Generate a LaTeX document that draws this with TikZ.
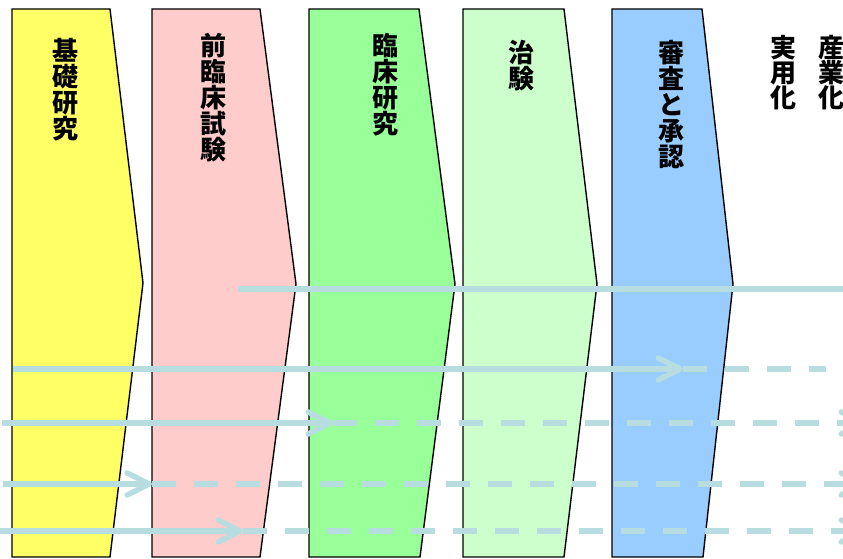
\documentclass[tikz,border=0pt]{standalone}
\usepackage{fontspec}
\newfontfamily\cjk{Noto Sans CJK JP}
\usetikzlibrary{arrows.meta}
\definecolor{flow}{RGB}{183,221,224}
\definecolor{cYellow}{RGB}{255,255,102}
\definecolor{cPink}{RGB}{255,204,204}
\definecolor{cGreen}{RGB}{153,255,153}
\definecolor{cLight}{RGB}{204,255,204}
\definecolor{cBlue}{RGB}{153,204,255}
\tikzset{
  stage/.style={draw=black, line width=1.4pt, line join=miter},
  lbl/.style={font=\cjk\bfseries\fontsize{26}{26}\selectfont, align=center, inner sep=0pt, anchor=north},
  flowline/.style={draw=flow, line width=5.5pt},
  flowdash/.style={draw=flow, line width=5.5pt, dash pattern=on 24pt off 18pt},
  barb/.tip={Straight Barb[length=22pt,width=22pt,round]}
}
\begin{document}
\begin{tikzpicture}[x=1pt,y=-1pt]
\useasboundingbox (0,0) rectangle (843,559);
\begin{scope}
\clip (0,0) rectangle (843,559);
% stages
\draw[stage, fill=cYellow] (12,9) -- (110,9) -- (143,283) -- (110,557) -- (12,557) -- cycle;
\draw[stage, fill=cPink] (152,9) -- (260,9) -- (296,284) -- (260,557) -- (152,557) -- cycle;
\draw[stage, fill=cGreen] (309,9) -- (419,9) -- (455,284) -- (420,557) -- (309,557) -- cycle;
\draw[stage, fill=cLight] (463,9) -- (564,9) -- (597,284) -- (564,557) -- (463,557) -- cycle;
\draw[stage, fill=cBlue] (612,9) -- (702,9) -- (733,284) -- (703,557) -- (612,557) -- cycle;
% labels
\node[lbl] (t1) at (65.5,38) {基\\礎\\研\\究};
\node[lbl] (t2) at (213.5,33) {前\\臨\\床\\試\\験};
\node[lbl] (t3) at (385,33) {臨\\床\\研\\究};
\node[lbl] (t4) at (521,40) {治\\験};
\node[lbl] (t5) at (671,40) {審\\査\\と\\承\\認};
\node[lbl, font=\cjk\bfseries\fontsize{26}{25}\selectfont] (t6) at (783,35) {実\\用\\化};
\node[lbl, font=\cjk\bfseries\fontsize{26}{25}\selectfont] (t7) at (831,35) {産\\業\\化};
% flow coordinates
\coordinate (l1s) at (238,289); \coordinate (l1e) at (850,289);
\coordinate (l2s) at (13,369); \coordinate (l2m) at (683,369); \coordinate (l2e) at (826,369);
\coordinate (l3s) at (2,423); \coordinate (l3m) at (333,423); \coordinate (l3e) at (866,423);
\coordinate (l4s) at (3,484); \coordinate (l4m) at (152,484); \coordinate (l4e) at (866,484);
\coordinate (l5s) at (0,531); \coordinate (l5m) at (243,531); \coordinate (l5e) at (866,531);
% flows
\draw[flowline] (l1s) -- (l1e);
\draw[flowline, -barb] (l2s) -- (l2m);
\draw[flowdash] (l2m) -- (l2e);
\draw[flowline, -barb] (l3s) -- (l3m);
\draw[flowdash, -barb] (l3m) -- (l3e);
\draw[flowline, -barb] (l4s) -- (l4m);
\draw[flowdash, -barb] (l4m) -- (l4e);
\draw[flowline, -barb] (l5s) -- (l5m);
\draw[flowdash, -barb] (l5m) -- (l5e);
\end{scope}
\end{tikzpicture}
\end{document}
